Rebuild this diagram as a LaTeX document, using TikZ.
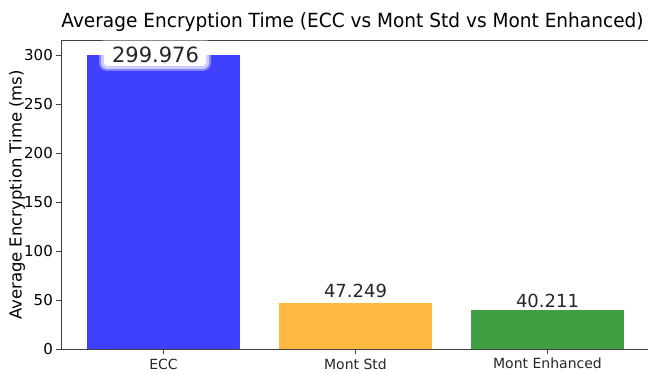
\documentclass[tikz,border=0pt]{standalone}
\usepackage{fontspec}
\setmainfont{DejaVu Sans}
\newfontfamily\titlefont{DejaVu Sans}[FakeStretch=0.95]
\begin{document}
\begin{tikzpicture}[x=1pt,y=-1pt,
  axis/.style={draw=black!75,line width=0.9pt},
  tick/.style={draw=black!75,line width=0.8pt},
  ticklab/.style={font=\fontsize{15}{15}\selectfont,anchor=east,inner sep=0pt},
  catlab/.style={font=\fontsize{14}{14}\selectfont,anchor=base,inner sep=0pt,text=black!85},
  vallab/.style={font=\fontsize{18}{18}\selectfont,anchor=base,inner sep=0pt,text=black!85}]
\useasboundingbox (0,0) rectangle (648,374);
\definecolor{cblue}{HTML}{4040FF}
\definecolor{corange}{HTML}{FFB940}
\definecolor{cgreen}{HTML}{409F40}
% bars
\fill[cblue] (87,55) rectangle (240,349);
\fill[corange] (279,302.7) rectangle (432,349);
\fill[cgreen] (471,309.6) rectangle (624,349);
% axes
\draw[axis] (651,40.5) -- (61,40.5) -- (61,349) -- (651,349);
% y ticks
\foreach \v/\yy in {0/349,50/300,100/251,150/202,200/153,250/104,300/55}{
  \draw[tick] (56,\yy) -- (61,\yy);
  \node[ticklab] (t\v) at (53,\yy) {\v};
}
% x ticks
\foreach \xx in {163.5,355.5,547.5}{\draw[tick] (\xx,349) -- (\xx,354);}
\node[catlab] (c1) at (163.5,369.5) {ECC};
\node[catlab] (c2) at (355.5,369.5) {Mont Std};
\node[catlab] (c3) at (547.5,368) {Mont Enhanced};
% value labels with white glow
\fill[white,opacity=0.35,rounded corners=8pt] (99,39) rectangle (211,71);
\fill[white,opacity=0.6,rounded corners=6pt] (101,41) rectangle (209,69);
\fill[white,rounded corners=4pt] (104,44) rectangle (206,66);
\node[font=\fontsize{21}{21}\selectfont,anchor=base,inner sep=0pt,text=black!85] (v1) at (155.5,63) {299.976};
\node[vallab] (v2) at (355.5,297) {47.249};
\node[vallab] (v3) at (547.5,307) {40.211};
% title and y label
\node[font=\titlefont\fontsize{19.5}{19.5}\selectfont,anchor=base,inner sep=0pt] (title) at (352.5,27.7) {Average Encryption Time (ECC vs Mont Std vs Mont Enhanced)};
\node[font=\fontsize{16.5}{16.5}\selectfont,rotate=90,inner sep=0pt] (ylab) at (17,195) {Average Encryption Time (ms)};
\end{tikzpicture}
\end{document}
